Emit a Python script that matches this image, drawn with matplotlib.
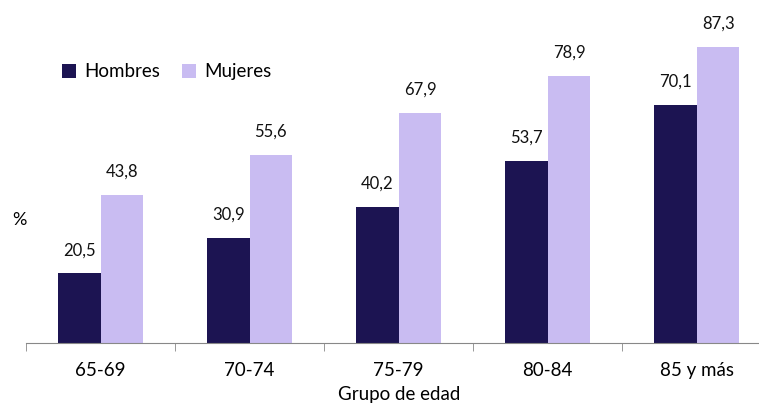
import matplotlib.pyplot as plt
import numpy as np

plt.rcParams["font.family"] = ["Lato", "DejaVu Sans"]

grupos = ["65-69", "70-74", "75-79", "80-84", "85 y más"]
hombres = [20.5, 30.9, 40.2, 53.7, 70.1]
mujeres = [43.8, 55.6, 67.9, 78.9, 87.3]

c_h = "#1c1452"
c_m = "#c9bcf2"

fig = plt.figure(figsize=(7.59, 4.03), dpi=100)
ax = fig.add_axes([0.0343, 0.149, 0.982, 0.841])

x = np.arange(len(grupos))
w = 0.285
b1 = ax.bar(x - w / 2, hombres, w, color=c_h, label="Hombres")
b2 = ax.bar(x + w / 2, mujeres, w, color=c_m, label="Mujeres")

for bars, vals in [(b1, hombres), (b2, mujeres)]:
    for bar, v in zip(bars, vals):
        ax.text(
            bar.get_x() + bar.get_width() / 2,
            v + 4.5,
            f"{v:.1f}".replace(".", ","),
            ha="center",
            va="bottom",
            fontsize=12,
            color="#111111",
        )

ax.set_xlim(-0.5, 4.5)
ax.set_ylim(0, 100)
ax.set_xticks(x)
ax.set_xticklabels(grupos, fontsize=13.5)
ax.set_xticks(np.arange(-0.5, 5, 1), minor=True)
ax.tick_params(axis="x", which="major", length=0, pad=14)
ax.tick_params(axis="x", which="minor", length=6, color="#888888")
ax.set_yticks([])
for s in ["top", "right", "left"]:
    ax.spines[s].set_visible(False)
ax.spines["bottom"].set_color("#888888")
ax.set_xlabel("Grupo de edad", fontsize=13.5, labelpad=5)

fig.text(0.016, 0.455, "%", fontsize=13, ha="left", va="center")

ax.legend(
    loc="upper left",
    bbox_to_anchor=(0.026, 0.875),
    ncol=2,
    frameon=False,
    fontsize=13.5,
    handlelength=0.75,
    handleheight=0.75,
    handletextpad=0.4,
    columnspacing=1.2,
)

fig.savefig("out.png", dpi=100)
